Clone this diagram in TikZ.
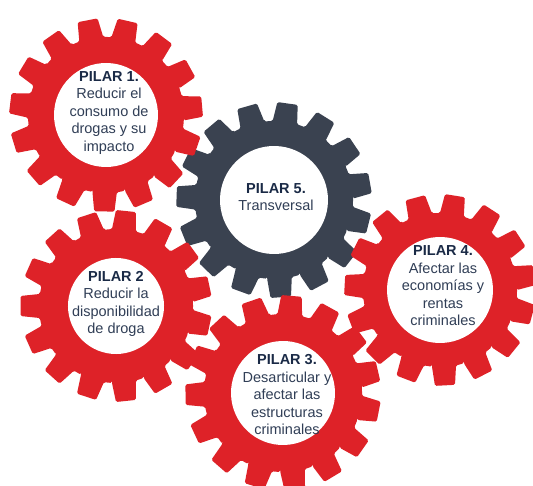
\documentclass[tikz,border=0pt]{standalone}
\usepackage{fontspec}
\setmainfont{Liberation Sans}
\usepackage{tikz}
\definecolor{gearred}{RGB}{222,34,40}
\definecolor{gearslate}{RGB}{58,66,80}
\definecolor{titleblue}{RGB}{26,42,70}
\definecolor{textblue}{RGB}{48,62,86}

% cogwheel: #1 centre, #2 tip radius, #3 rotation, #4 colour, #5 hole radius
\newcommand{\cogwheel}[5]{%
  \begin{scope}[shift={(#1)},rotate=#3]
    \pgfmathsetmacro{\tipr}{#2}
    \pgfmathsetmacro{\rootr}{#2-19}
    \fill[#4,rounded corners=1.5pt] (-9:\rootr pt)
      \foreach \t in {0,24,...,336}{
        -- (\t-9:\rootr pt) -- (\t-6:\tipr pt) -- (\t+6:\tipr pt) -- (\t+9:\rootr pt)
        arc[start angle=\t+9, end angle=\t+15, radius=\rootr pt]}
      -- cycle;
    \fill[white] (0,0) circle (#5pt);
  \end{scope}}

\tikzset{
  pilar/.style={align=center, text=textblue, inner sep=0pt,
    font=\fontsize{14.5}{17.5}\selectfont},
}
\newcommand{\pilartitle}[1]{{\color{titleblue}\bfseries #1}}

\begin{document}
\begin{tikzpicture}[x=1pt,y=1pt]
  \useasboundingbox (0,0) rectangle (533,485);

  \cogwheel{274,285}{98}{10}{gearslate}{54}
  \cogwheel{106,370}{97}{5}{gearred}{52}
  \cogwheel{116,179}{96}{12}{gearred}{48}
  \cogwheel{440,195}{96}{9}{gearred}{53}
  \cogwheel{283,92}{98}{13}{gearred}{52}

  \node[pilar] (pilar1) at (109,372) {\pilartitle{PILAR 1.}\\Reducir el\\consumo de\\drogas y su\\impacto};
  \node[pilar] (pilar2) at (116,181) {\pilartitle{PILAR 2}\\Reducir la\\disponibilidad\\de droga};
  \node[pilar] (pilar5) at (276,288) {\pilartitle{PILAR 5.}\\Transversal};
  \node[pilar] (pilar4) at (443,199) {\pilartitle{PILAR 4.}\\Afectar las\\economías y\\rentas\\criminales};
  \node[pilar] (pilar3) at (287,90) {\pilartitle{PILAR 3.}\\Desarticular y\\afectar las\\estructuras\\criminales};
\end{tikzpicture}
\end{document}
